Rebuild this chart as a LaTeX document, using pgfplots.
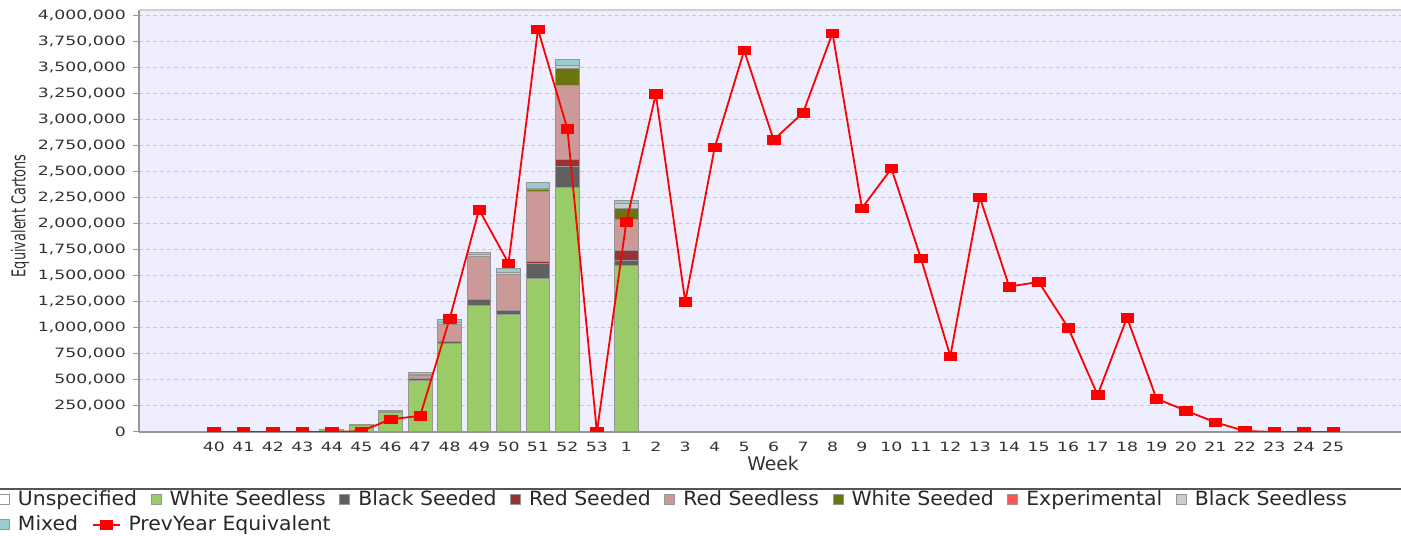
\documentclass[border=0pt]{standalone}
\usepackage{pgfplots}
\pgfplotsset{compat=1.18}
\usepackage{pgfplotstable}
\usepackage{graphicx}
\usepackage{fontspec}
\setmainfont{DejaVu Sans}
\newfontfamily\tickfont[FakeStretch=1.35]{DejaVu Sans}
\newfontfamily\legfont[FakeStretch=1.04]{DejaVu Sans}

\definecolor{bgc}{RGB}{238,238,255}
\definecolor{gridc}{RGB}{200,200,212}
\definecolor{axisc}{RGB}{150,150,150}
\definecolor{topc}{RGB}{205,205,222}
\definecolor{barline}{RGB}{150,150,150}
\definecolor{legline}{RGB}{85,85,85}
\definecolor{cUNS}{RGB}{255,255,255}
\definecolor{cWSL}{RGB}{153,204,102}
\definecolor{cBSD}{RGB}{96,96,96}
\definecolor{cRSD}{RGB}{153,51,51}
\definecolor{cRSL}{RGB}{204,153,153}
\definecolor{cWSD}{RGB}{107,117,16}
\definecolor{cEXP}{RGB}{255,85,85}
\definecolor{cBSL}{RGB}{204,204,204}
\definecolor{cMIX}{RGB}{153,204,204}
\definecolor{ticktext}{RGB}{50,50,50}
\definecolor{legtext}{RGB}{40,40,40}

% stacked bars: category index (0 = week 40 ... 13 = week 53, 14 = week 1 ...)
\pgfplotstableread{
x  uns wsl     bsd    rsd   rsl    wsd    exp bsl   mix
4  0   20000   0      0     0      0      0   6000  0
5  0   64000   0      0     0      0      0   6000  0
6  0   190000  0      0     4000   0      0   4000  4000
7  0   495000  16000  0     35000  0      0   10000 18000
8  0   853000  16000  0     160000 0      0   20000 28000
9  0   1214000 55000  0     417000 0      0   18000 24000
10 0   1125000 42000  0     350000 0      0   20000 37000
11 0   1478000 138000 20000 673000 20000  0   15000 53000
12 0   2353000 198000 71000 705000 170000 0   26000 61000
14 0   1599000 45000  96000 305000 99000  0   48000 29000
}\bars

\pgfplotstableread{
x  v
0  0
1  0
2  0
3  0
4  0
5  8000
6  122000
7  155000
8  1087000
9  2137000
10 1622000
11 3868000
12 2913000
13 0
14 2019000
15 3247000
16 1253000
17 2734000
18 3666000
19 2808000
20 3067000
21 3833000
22 2151000
23 2532000
24 1670000
25 728000
26 2257000
27 1397000
28 1442000
29 1003000
30 356000
31 1099000
32 320000
33 205000
34 93000
35 10000
36 0
37 0
38 0
}\prev

\pgfplotsset{
  common/.style={
    at={(69.5pt,51.5pt)}, anchor=south west,
    scale only axis, width=632pt, height=211pt,
    xmin=-2.546, xmax=40.37, ymin=0, ymax=4055000,
    enlargelimits=false,
  },
  legcommon/.style={
    legend columns=-1,
    legend cell align=left,
    legend style={draw=none, fill=none, inner sep=0pt, outer sep=0pt,
      font=\legfont\fontsize{9.8}{11}\selectfont, text=legtext,
      /tikz/every odd column/.append style={column sep=2pt},
      /tikz/every even column/.append style={column sep=4.8pt}},
  },
  boxlegend/.style={legend image code/.code={\draw[##1, draw=barline, line width=0.5pt] (0pt,-2.4pt) rectangle (5pt,2.6pt);}},
  linelegend/.style={legend image code/.code={\draw[mark repeat=2, mark phase=2, ##1] plot coordinates {(0pt,0pt) (6.75pt,0pt) (13.5pt,0pt)};}},
}

\begin{document}
\begin{tikzpicture}
\begin{axis}[common, legcommon,
  ybar stacked, bar width=0.81,
  axis background/.style={fill=bgc},
  axis x line*=bottom, axis y line*=left,
  axis line style={draw=axisc, line width=0.6pt},
  xtick={0,...,38},
  xticklabels={40,41,42,43,44,45,46,47,48,49,50,51,52,53,1,2,3,4,5,6,7,8,9,10,11,12,13,14,15,16,17,18,19,20,21,22,23,24,25},
  xtick style={draw=none},
  ytick={0,250000,...,4000000},
  ytick style={draw=axisc, line width=0.5pt},
  tick align=outside, major tick length=3pt,
  scaled y ticks=false,
  yticklabel style={font=\tickfont\fontsize{6.4}{7}\selectfont, text=ticktext,
    /pgf/number format/fixed, /pgf/number format/1000 sep={,},
    /pgf/number format/assume math mode=true},
  xticklabel style={font=\tickfont\fontsize{6.4}{7}\selectfont, text=ticktext, yshift=1.5pt},
  ymajorgrids,
  grid style={draw=gridc, dash pattern=on 2pt off 1.5pt, line width=0.5pt},
  xlabel={Week},
  xlabel style={font=\fontsize{9.4}{11}\selectfont, text=ticktext,
    at={(axis description cs:0.5016,-0.0758)}, anchor=center},
  ylabel={\scalebox{0.68}[1]{Equivalent Cartons}},
  ylabel style={font=\fontsize{9.5}{11}\selectfont, text=ticktext,
    at={(axis description cs:-0.0941,0.512)}, anchor=center},
  legend style={at={(axis description cs:-0.1108,-0.161)}, anchor=west},
  boxlegend,
]
\addplot[fill=cUNS, draw=barline, line width=0.5pt] table[x=x, y=uns] {\bars};
\addlegendentry{Unspecified}
\addplot[fill=cWSL, draw=barline, line width=0.5pt] table[x=x, y=wsl] {\bars};
\addlegendentry{White Seedless}
\addplot[fill=cBSD, draw=barline, line width=0.5pt] table[x=x, y=bsd] {\bars};
\addlegendentry{Black Seeded}
\addplot[fill=cRSD, draw=barline, line width=0.5pt] table[x=x, y=rsd] {\bars};
\addlegendentry{Red Seeded}
\addplot[fill=cRSL, draw=barline, line width=0.5pt] table[x=x, y=rsl] {\bars};
\addlegendentry{Red Seedless}
\addplot[fill=cWSD, draw=barline, line width=0.5pt] table[x=x, y=wsd] {\bars};
\addlegendentry{White Seeded}
\addplot[fill=cEXP, draw=barline, line width=0.5pt] table[x=x, y=exp] {\bars};
\addlegendentry{Experimental}
\addplot[fill=cBSL, draw=barline, line width=0.5pt] table[x=x, y=bsl] {\bars};
\addlegendentry{Black Seedless}
\addplot[fill=cMIX, draw=barline, line width=0.5pt] table[x=x, y=mix] {\bars};
\end{axis}

\begin{axis}[common, legcommon,
  hide axis, clip marker paths=true,
  legend style={at={(axis description cs:-0.1108,-0.2204)}, anchor=west},
]
\addlegendimage{fill=cMIX, draw=barline, line width=0.5pt, boxlegend}
\addlegendentry{Mixed}
\addplot[red, line width=0.9pt, mark=square*,
  mark size=2.15pt, mark options={xscale=1.45, line width=0.3pt, fill=red},
  linelegend]
  table[x=x, y=v] {\prev};
\addlegendentry{PrevYear Equivalent}
\end{axis}

\draw[topc, line width=1pt] (69.5pt,262.5pt) -- (703pt,262.5pt);
\draw[legline, line width=0.8pt] (-2pt,23pt) -- (703pt,23pt);

\pgfresetboundingbox
\useasboundingbox (0pt,0pt) rectangle (700.5pt,267.5pt);
\end{tikzpicture}
\end{document}
